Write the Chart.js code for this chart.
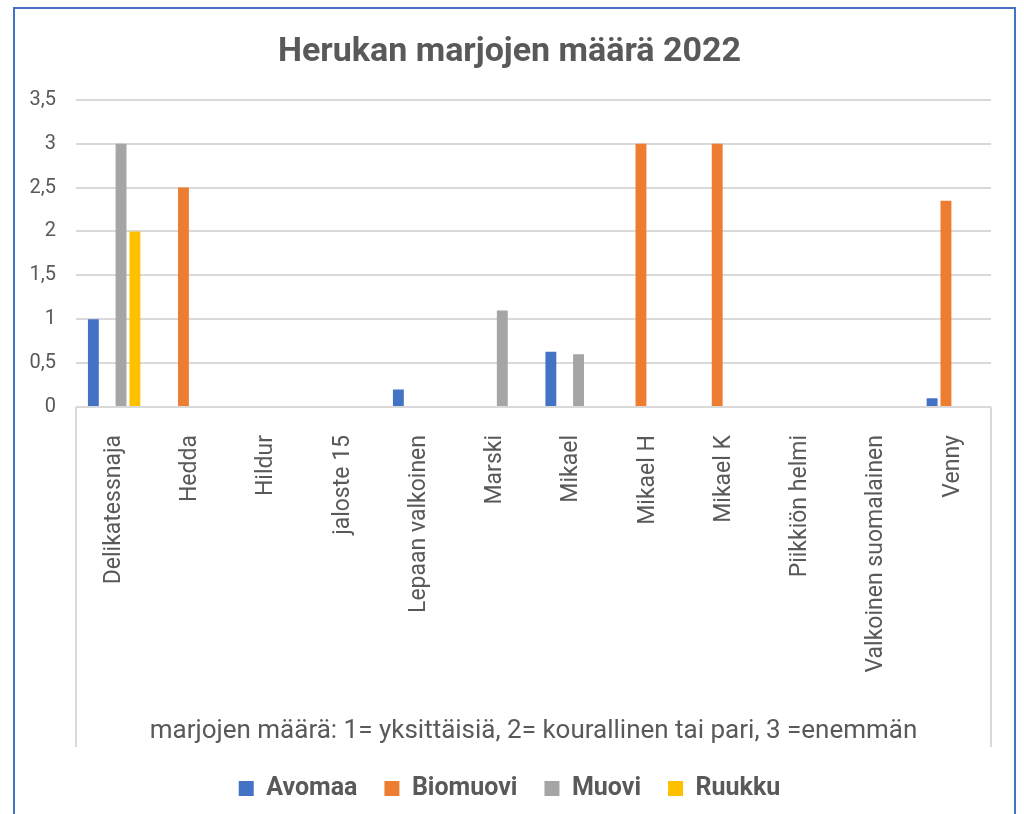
<!DOCTYPE html>
<html>
<head>
<meta charset="utf-8">
<script src="https://cdn.jsdelivr.net/npm/chart.js@4.4.0/dist/chart.umd.min.js"></script>
<style>
  html, body { margin: 0; padding: 0; background: #fff; }
  #wrap { position: relative; width: 1024px; height: 814px; overflow: hidden; }
  #kehys { position: absolute; left: 13px; top: 7px; width: 999px; height: 900px; border: 2px solid #4472c4; pointer-events: none; }
  canvas { position: absolute; left: 0; top: 0; }
</style>
</head>
<body>
<div id="wrap">
  <canvas id="kaavio" width="1024" height="814"></canvas>
  <div id="kehys"></div>
</div>
<script>
// Herukan marjojen määrä 2022
const lajikkeet = ['Delikatessnaja', 'Hedda', 'Hildur', 'jaloste 15', 'Lepaan valkoinen', 'Marski',
  'Mikael', 'Mikael H', 'Mikael K', 'Piikkiön helmi', 'Valkoinen suomalainen', 'Venny'];

const avomaa   = [1,    null, null, null, 0.2,  null, 0.63, null, null, null, null, 0.1];
const biomuovi = [null, 2.5,  null, null, null, null, null, 3,    3,    null, null, 2.35];
const muovi    = [3,    null, null, null, null, 1.1,  0.6,  null, null, null, null, null];
const ruukku   = [2,    null, null, null, null, null, null, null, null, null, null, null];

const yTicks = [0, 0.5, 1, 1.5, 2, 2.5, 3, 3.5];

const fontti = 'Roboto, "Noto Sans", sans-serif';
const harmaa = '#595959';

// pystyviivat kategoria-akselin reunoille (Excelin tapaan)
const reunaviivat = {
  id: 'reunaviivat',
  afterDraw(chart) {
    const { ctx, chartArea, scales } = chart;
    ctx.save();
    ctx.strokeStyle = '#d9d9d9';
    ctx.lineWidth = 2;
    ctx.beginPath();
    ctx.moveTo(chartArea.left, chartArea.bottom);
    ctx.lineTo(chartArea.left, scales.x.bottom - 2);
    ctx.moveTo(chartArea.right, chartArea.bottom);
    ctx.lineTo(chartArea.right, scales.x.bottom - 2);
    ctx.stroke();
    ctx.restore();
  }
};

const sarja = (nimi, data, vari) => ({
  label: nimi,
  data: data,
  backgroundColor: vari,
  borderWidth: 0,
  categoryPercentage: 0.726,
  barPercentage: 0.787
});

new Chart(document.getElementById('kaavio'), {
  type: 'bar',
  data: {
    labels: lajikkeet,
    datasets: [
      sarja('Avomaa', avomaa, '#4472c4'),
      sarja('Biomuovi', biomuovi, '#ed7d31'),
      sarja('Muovi', muovi, '#a5a5a5'),
      sarja('Ruukku', ruukku, '#ffc000')
    ]
  },
  plugins: [reunaviivat],
  options: {
    responsive: false,
    animation: false,
    layout: { padding: { left: 28, right: 33, top: 0, bottom: 3 } },
    plugins: {
      title: {
        display: true,
        text: 'Herukan marjojen määrä 2022',
        color: harmaa,
        font: { family: fontti, size: 34, weight: 'bold' },
        padding: { top: 32, bottom: 27 }
      },
      legend: {
        position: 'bottom',
        labels: {
          color: harmaa,
          font: { family: fontti, size: 25, weight: 'bold' },
          boxWidth: 15,
          boxHeight: 15,
          padding: 27
        }
      },
      tooltip: { enabled: false }
    },
    scales: {
      x: {
        grid: { display: false },
        border: { display: false },
        ticks: {
          color: harmaa,
          font: { family: fontti, size: 23 },
          minRotation: 90,
          maxRotation: 90,
          autoSkip: false,
          padding: 20
        },
        title: {
          display: true,
          text: 'marjojen määrä: 1= yksittäisiä, 2= kourallinen tai pari, 3 =enemmän',
          color: harmaa,
          font: { family: fontti, size: 26 },
          padding: { top: 0, bottom: 2 }
        },
        afterFit(scale) { scale.height = 342; }
      },
      y: {
        min: 0,
        max: 3.5,
        afterBuildTicks(scale) { scale.ticks = yTicks.map(v => ({ value: v })); },
        grid: { color: '#d9d9d9', lineWidth: 2, drawTicks: false },
        border: { display: false },
        ticks: {
          color: harmaa,
          font: { family: fontti, size: 20 },
          padding: 20,
          callback: v => String(v).replace('.', ',')
        },
        afterFit(scale) { scale.width = 48; }
      }
    }
  }
});
</script>
</body>
</html>
